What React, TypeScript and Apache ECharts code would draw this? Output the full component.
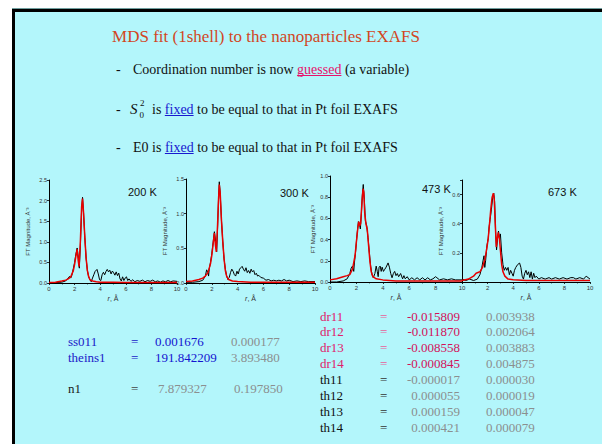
import React, { useEffect, useRef } from "react";
import * as echarts from "echarts";

// FT magnitude of EXAFS data (black) and 1-shell MDS fit (red), [r (Å), |FT|]
const data200: number[][] = [
  [0, 0.01], [0.5, 0.01], [1.0, 0.02], [1.3, 0.05], [1.5, 0.12], [1.6, 0.16], [1.7, 0.12], [1.8, 0.2],
  [1.9, 0.35], [2.0, 0.5], [2.1, 0.7], [2.2, 0.85], [2.3, 0.6], [2.37, 0.36], [2.45, 0.9], [2.55, 1.8],
  [2.62, 2.08], [2.7, 1.7], [2.8, 1.1], [2.9, 0.6], [3.0, 0.3], [3.1, 0.15], [3.2, 0.08], [3.3, 0.03],
  [3.4, 0.12], [3.5, 0.2], [3.6, 0.28], [3.75, 0.33], [3.85, 0.22], [3.95, 0.08], [4.05, 0.06], [4.15, 0.2],
  [4.25, 0.26], [4.35, 0.2], [4.45, 0.28], [4.55, 0.33], [4.65, 0.27], [4.75, 0.31], [4.85, 0.22], [4.95, 0.29],
  [5.05, 0.25], [5.15, 0.19], [5.25, 0.27], [5.35, 0.18], [5.45, 0.24], [5.55, 0.1], [5.65, 0.05], [5.75, 0.15],
  [5.85, 0.06], [5.95, 0.12], [6.05, 0.15], [6.15, 0.06], [6.25, 0.1], [6.4, 0.04], [6.55, 0.08], [6.7, 0.03],
  [6.9, 0.06], [7.1, 0.04], [7.3, 0.07], [7.5, 0.03], [7.7, 0.06], [7.9, 0.04], [8.1, 0.07], [8.3, 0.03],
  [8.5, 0.05], [8.7, 0.02], [8.9, 0.05], [9.1, 0.03], [9.3, 0.06], [9.5, 0.03], [9.7, 0.05], [10, 0.04],
];
const fit200: number[][] = [
  [0, 0.01], [0.5, 0.02], [1.0, 0.05], [1.3, 0.07], [1.5, 0.1], [1.7, 0.15], [1.9, 0.3], [2.0, 0.45],
  [2.1, 0.65], [2.2, 0.82], [2.28, 0.55], [2.35, 0.4], [2.45, 1.0], [2.55, 1.85], [2.62, 2.05], [2.7, 1.7],
  [2.8, 1.1], [2.9, 0.6], [3.0, 0.3], [3.1, 0.15], [3.2, 0.08], [3.4, 0.05], [3.7, 0.03], [4.0, 0.02],
  [5, 0.02], [6, 0.01], [8, 0.01], [10, 0.01],
];

const data300: number[][] = [
  [0, 0.01], [0.5, 0.01], [1.0, 0.02], [1.3, 0.04], [1.5, 0.1], [1.6, 0.19], [1.7, 0.15], [1.75, 0.1],
  [1.8, 0.2], [1.9, 0.3], [2.0, 0.42], [2.1, 0.58], [2.2, 0.74], [2.3, 0.6], [2.38, 0.45], [2.45, 0.8],
  [2.52, 1.2], [2.58, 1.46], [2.65, 1.3], [2.75, 0.9], [2.85, 0.6], [2.95, 0.35], [3.05, 0.2], [3.15, 0.1],
  [3.25, 0.05], [3.35, 0.08], [3.45, 0.15], [3.55, 0.2], [3.65, 0.17], [3.75, 0.12], [3.85, 0.1], [3.95, 0.17],
  [4.05, 0.13], [4.15, 0.2], [4.25, 0.22], [4.35, 0.24], [4.45, 0.2], [4.55, 0.17], [4.65, 0.22], [4.75, 0.15],
  [4.85, 0.18], [4.95, 0.14], [5.05, 0.2], [5.15, 0.16], [5.25, 0.18], [5.35, 0.12], [5.45, 0.14], [5.55, 0.1],
  [5.65, 0.11], [5.8, 0.08], [6.0, 0.07], [6.2, 0.04], [6.4, 0.05], [6.6, 0.03], [6.8, 0.04], [7.0, 0.03],
  [7.2, 0.04], [7.4, 0.03], [7.6, 0.05], [7.8, 0.03], [8.0, 0.04], [8.3, 0.02], [8.6, 0.03], [8.9, 0.02],
  [9.2, 0.03], [9.5, 0.02], [10, 0.02],
];
const fit300: number[][] = [
  [0, 0.02], [0.5, 0.03], [1.0, 0.05], [1.3, 0.07], [1.5, 0.1], [1.7, 0.15], [1.9, 0.28], [2.0, 0.4],
  [2.1, 0.56], [2.2, 0.72], [2.28, 0.55], [2.35, 0.45], [2.45, 0.85], [2.52, 1.2], [2.58, 1.42], [2.65, 1.3],
  [2.75, 0.9], [2.85, 0.6], [2.95, 0.35], [3.05, 0.18], [3.15, 0.1], [3.3, 0.05], [3.6, 0.03], [4.0, 0.02],
  [5, 0.01], [10, 0.01],
];

const data473: number[][] = [
  [0, 0.0], [0.5, 0.0], [1.0, 0.01], [1.3, 0.03], [1.5, 0.08], [1.6, 0.13], [1.7, 0.15], [1.8, 0.1],
  [1.85, 0.18], [1.95, 0.3], [2.05, 0.45], [2.15, 0.57], [2.22, 0.55], [2.3, 0.5], [2.38, 0.65], [2.45, 0.82],
  [2.52, 0.92], [2.6, 0.78], [2.68, 0.58], [2.78, 0.53], [2.88, 0.42], [2.98, 0.28], [3.08, 0.15], [3.18, 0.07],
  [3.28, 0.04], [3.4, 0.08], [3.5, 0.15], [3.58, 0.1], [3.65, 0.05], [3.72, 0.14], [3.8, 0.15], [3.88, 0.1],
  [3.95, 0.14], [4.05, 0.1], [4.15, 0.12], [4.25, 0.14], [4.4, 0.18], [4.5, 0.14], [4.6, 0.08], [4.7, 0.04],
  [4.8, 0.08], [4.9, 0.1], [5.0, 0.06], [5.1, 0.08], [5.2, 0.05], [5.35, 0.08], [5.5, 0.03], [5.6, 0.06],
  [5.7, 0.03], [5.85, 0.05], [6.0, 0.02], [6.2, 0.04], [6.4, 0.02], [6.6, 0.04], [6.8, 0.02], [7.0, 0.04],
  [7.2, 0.02], [7.4, 0.04], [7.6, 0.02], [7.8, 0.03], [8.0, 0.05], [8.1, 0.04], [8.3, 0.02], [8.6, 0.03],
  [8.9, 0.02], [9.2, 0.03], [9.5, 0.02], [10, 0.02],
];
const fit473: number[][] = [
  [0, 0.02], [0.5, 0.03], [1.0, 0.05], [1.3, 0.06], [1.5, 0.07], [1.7, 0.12], [1.9, 0.25], [2.0, 0.38],
  [2.1, 0.5], [2.18, 0.57], [2.25, 0.53], [2.32, 0.55], [2.42, 0.75], [2.5, 0.88], [2.56, 0.85], [2.63, 0.65],
  [2.72, 0.55], [2.82, 0.5], [2.92, 0.35], [3.02, 0.2], [3.12, 0.1], [3.25, 0.05], [3.5, 0.03], [4, 0.02],
  [5, 0.01], [10, 0.01],
];

const data673: number[][] = [
  [0, 0.02], [0.3, 0.01], [0.6, 0.02], [0.9, 0.01], [1.2, 0.02], [1.4, 0.05], [1.55, 0.1], [1.65, 0.15],
  [1.72, 0.18], [1.78, 0.1], [1.85, 0.15], [1.95, 0.25], [2.05, 0.3], [2.12, 0.38], [2.2, 0.43], [2.3, 0.5],
  [2.4, 0.58], [2.48, 0.61], [2.55, 0.55], [2.62, 0.35], [2.7, 0.22], [2.78, 0.3], [2.85, 0.35], [2.92, 0.3],
  [3.0, 0.33], [3.1, 0.2], [3.2, 0.12], [3.3, 0.08], [3.4, 0.1], [3.5, 0.08], [3.6, 0.1], [3.7, 0.05],
  [3.8, 0.08], [3.9, 0.06], [4.0, 0.04], [4.1, 0.08], [4.2, 0.1], [4.35, 0.12], [4.5, 0.13], [4.6, 0.1],
  [4.7, 0.04], [4.8, 0.02], [4.9, 0.06], [5.0, 0.08], [5.1, 0.05], [5.2, 0.07], [5.3, 0.03], [5.4, 0.07],
  [5.5, 0.02], [5.6, 0.06], [5.7, 0.03], [5.8, 0.04], [6.0, 0.02], [6.2, 0.03], [6.5, 0.02], [6.8, 0.03],
  [7.0, 0.02], [7.3, 0.03], [7.6, 0.02], [7.9, 0.03], [8.2, 0.02], [8.5, 0.03], [8.7, 0.03], [8.9, 0.02],
  [9.2, 0.03], [9.5, 0.02], [9.7, 0.04], [10, 0.02],
];
const fit673: number[][] = [
  [0, 0.01], [0.5, 0.02], [0.9, 0.04], [1.1, 0.06], [1.4, 0.07], [1.6, 0.1], [1.8, 0.16], [1.95, 0.24],
  [2.05, 0.3], [2.15, 0.4], [2.25, 0.5], [2.35, 0.58], [2.45, 0.61], [2.52, 0.57], [2.6, 0.4], [2.68, 0.24],
  [2.76, 0.3], [2.84, 0.34], [2.92, 0.3], [3.0, 0.22], [3.1, 0.12], [3.2, 0.07], [3.35, 0.04], [3.6, 0.02],
  [4, 0.015], [5, 0.01], [10, 0.01],
];

const temperatures = ["200 K", "300 K", "473 K", "673 K"];
const yMax = [2.5, 1.5, 1.0, 0.7];
const yStep = [0.5, 0.5, 0.2, 0.2];
const measured = [data200, data300, data473, data673];
const fitted = [fit200, fit300, fit473, fit673];

// Fit parameters: name, value, uncertainty
const leftNames = ["ss011", "theins1", "n1"];
const leftValues = ["0.001676", "191.842209", "7.879327"];
const leftErrors = ["0.000177", "3.893480", "0.197850"];
const rightNames = ["dr11", "dr12", "dr13", "dr14", "th11", "th12", "th13", "th14"];
const rightValues = ["-0.015809", "-0.011870", "-0.008558", "-0.000845", "-0.000017", "0.000055", "0.000159", "0.000421"];
const rightErrors = ["0.003938", "0.002064", "0.003883", "0.004875", "0.000030", "0.000019", "0.000047", "0.000079"];

const SERIF = "'Liberation Serif', 'Times New Roman', serif";
const SANS = "'Liberation Sans', Arial, sans-serif";

const grids = [
  { left: 49, top: 180, width: 128, height: 103 },
  { left: 186, top: 179, width: 129, height: 104 },
  { left: 330, top: 176, width: 132, height: 106 },
  { left: 462, top: 180, width: 128, height: 102 },
];
const tempPos = [
  [128, 192], [280, 193], [422, 189], [548, 192],
];

let measureCtx: CanvasRenderingContext2D | null = null;
function textWidth(text: string, font: string): number {
  if (!measureCtx) measureCtx = document.createElement("canvas").getContext("2d");
  if (!measureCtx) return text.length * 7;
  measureCtx.font = font;
  return measureCtx.measureText(text).width;
}

function label(x: number, y: number, text: string, fill: string, font: string, align = "left"): any {
  return {
    type: "text",
    x,
    y,
    silent: true,
    style: { text, fill, font, textAlign: align, textVerticalAlign: "middle", verticalAlign: "middle" },
  };
}

// a run of text pieces laid out left to right, some of them underlined
function textRun(x0: number, y: number, parts: [string, string, boolean][], font: string): any[] {
  const out: any[] = [];
  let x = x0;
  for (const [t, color, ul] of parts) {
    const w = textWidth(t, font);
    out.push(label(x, y, t, color, font));
    if (ul) {
      out.push({
        type: "line",
        silent: true,
        shape: { x1: x, y1: y + 6.5, x2: x + w, y2: y + 6.5 },
        style: { stroke: color, lineWidth: 1 },
      });
    }
    x += w;
  }
  return out;
}

function buildOption(): any {
  const bulletFont = `14px ${SERIF}`;
  const black = "#111111";
  const pink = "#e8106a";
  const blue = "#1818d0";

  const graphics: any[] = [
    {
      type: "rect",
      z: -10,
      silent: true,
      shape: { x: 13.5, y: 10.5, width: 700, height: 500 },
      style: { fill: "#b3f6fb", stroke: "#000000", lineWidth: 3 },
    },
    {
      type: "line",
      z: -9,
      silent: true,
      shape: { x1: 12, y1: 8.5, x2: 602, y2: 8.5 },
      style: { stroke: "#6f9f9f", lineWidth: 1 },
    },
    label(266, 36, "MDS fit (1shell) to the nanoparticles EXAFS", "#d2461e", `17px ${SERIF}`, "center"),
    label(116, 69, "-", black, bulletFont),
    label(116, 109, "-", black, bulletFont),
    label(116, 147, "-", black, bulletFont),
    ...textRun(133, 69, [
      ["Coordination number is now ", black, false],
      ["guessed", pink, true],
      [" (a variable)", black, false],
    ], bulletFont),
    label(130, 109, "S", black, `italic 15px ${SERIF}`),
    label(140, 103, "2", black, `9px ${SERIF}`),
    label(139.5, 115, "0", black, `9px ${SERIF}`),
    ...textRun(152, 109, [
      ["is ", black, false],
      ["fixed", blue, true],
      [" to be equal to that in Pt foil EXAFS", black, false],
    ], bulletFont),
    ...textRun(133, 147, [
      ["E0 is ", black, false],
      ["fixed", blue, true],
      [" to be equal to that in Pt foil EXAFS", black, false],
    ], bulletFont),
  ];

  temperatures.forEach((t, i) => {
    graphics.push(label(tempPos[i][0], tempPos[i][1], t, "#111111", `11px ${SANS}`));
  });

  // parameter tables
  const tFont = `13px ${SERIF}`;
  const gray = "#8b8f8f";
  const leftY = [341, 357, 388];
  const leftValX = [155, 155, 158];
  const leftErrX = [231, 231, 234];
  leftNames.forEach((n, i) => {
    const isN = n === "n1";
    const nameColor = isN ? "#1a1a1a" : "#2020c8";
    graphics.push(label(68, leftY[i], n, nameColor, tFont));
    graphics.push(label(131, leftY[i], "=", isN ? "#444" : "#2020c8", tFont));
    graphics.push(label(leftValX[i], leftY[i], leftValues[i], isN ? gray : "#1414d0", tFont));
    graphics.push(label(leftErrX[i], leftY[i], leftErrors[i], gray, tFont));
  });
  rightNames.forEach((n, i) => {
    const y = 316 + i * 15.9;
    const isDr = n.startsWith("dr");
    graphics.push(label(320, y, n, isDr ? "#e0206a" : "#111111", tFont));
    graphics.push(label(380, y, "=", isDr ? "#e8609a" : "#333333", tFont));
    graphics.push(label(460, y, rightValues[i], isDr ? "#d4105a" : gray, tFont, "right"));
    graphics.push(label(486, y, rightErrors[i], gray, tFont));
  });

  const axisColor = "#000000";
  const xAxis = grids.map((_, i) => ({
    type: "value",
    gridIndex: i,
    min: 0,
    max: 10,
    interval: 2,
    axisLine: { show: true, onZero: false, lineStyle: { color: axisColor, width: 1 } },
    axisTick: { show: true, length: 2, lineStyle: { color: axisColor, width: 0.8 } },
    minorTick: { show: true, splitNumber: 2, length: 1.5, lineStyle: { color: axisColor, width: 0.6 } },
    splitLine: { show: false },
    axisLabel: {
      fontSize: 6,
      color: "#333",
      margin: 3,
      fontFamily: SANS,
      // the last panel's "0" sits under the neighbouring panel's "10"
      formatter: (v: number) => (i === 3 && v === 0 ? "" : String(v)),
    },
    name: "{i|r}, Å",
    nameLocation: "middle",
    nameGap: 12,
    nameTextStyle: {
      fontSize: 7,
      color: "#333",
      fontFamily: SANS,
      rich: { i: { fontStyle: "italic", fontSize: 7, color: "#333", fontFamily: SANS } },
    },
  }));
  const yAxis = grids.map((_, i) => ({
    type: "value",
    gridIndex: i,
    min: 0,
    max: yMax[i],
    interval: yStep[i],
    axisLine: { show: true, onZero: false, lineStyle: { color: axisColor, width: 1 } },
    axisTick: { show: true, length: 2, lineStyle: { color: axisColor, width: 0.8 } },
    splitLine: { show: false },
    axisLabel: {
      fontSize: 5.5,
      color: "#333",
      margin: 2,
      fontFamily: SANS,
      formatter: (v: number) => {
        if (i === 3 && (v === 0 || v > 0.65)) return "";
        return v.toFixed(1);
      },
    },
    name: "FT Magnitude, Å⁻³",
    nameLocation: "middle",
    nameGap: i === 2 ? 14 : 18,
    nameRotate: 90,
    nameTextStyle: { fontSize: 6, color: "#333", fontFamily: SANS },
  }));

  const series: any[] = [];
  grids.forEach((_, i) => {
    series.push({
      type: "line",
      name: `data ${temperatures[i]}`,
      xAxisIndex: i,
      yAxisIndex: i,
      data: measured[i],
      showSymbol: false,
      symbol: "none",
      lineStyle: { color: "#000000", width: 1 },
      z: 2,
    });
    series.push({
      type: "line",
      name: `fit ${temperatures[i]}`,
      xAxisIndex: i,
      yAxisIndex: i,
      data: fitted[i],
      showSymbol: false,
      symbol: "none",
      lineStyle: { color: "#e80000", width: 1.5 },
      z: 3,
    });
  });

  return {
    animation: false,
    backgroundColor: "#ffffff",
    grid: grids.map((g) => ({ ...g, containLabel: false })),
    xAxis,
    yAxis,
    series,
    graphic: { elements: graphics },
  };
}

export default function App() {
  const ref = useRef<HTMLDivElement>(null);
  useEffect(() => {
    if (!ref.current) return;
    const chart = echarts.init(ref.current, undefined, { renderer: "svg" });
    chart.setOption(buildOption());
    return () => chart.dispose();
  }, []);
  return (
    <div
      ref={ref}
      style={{ position: "fixed", left: 0, top: 0, width: 602, height: 444 }}
    />
  );
}
